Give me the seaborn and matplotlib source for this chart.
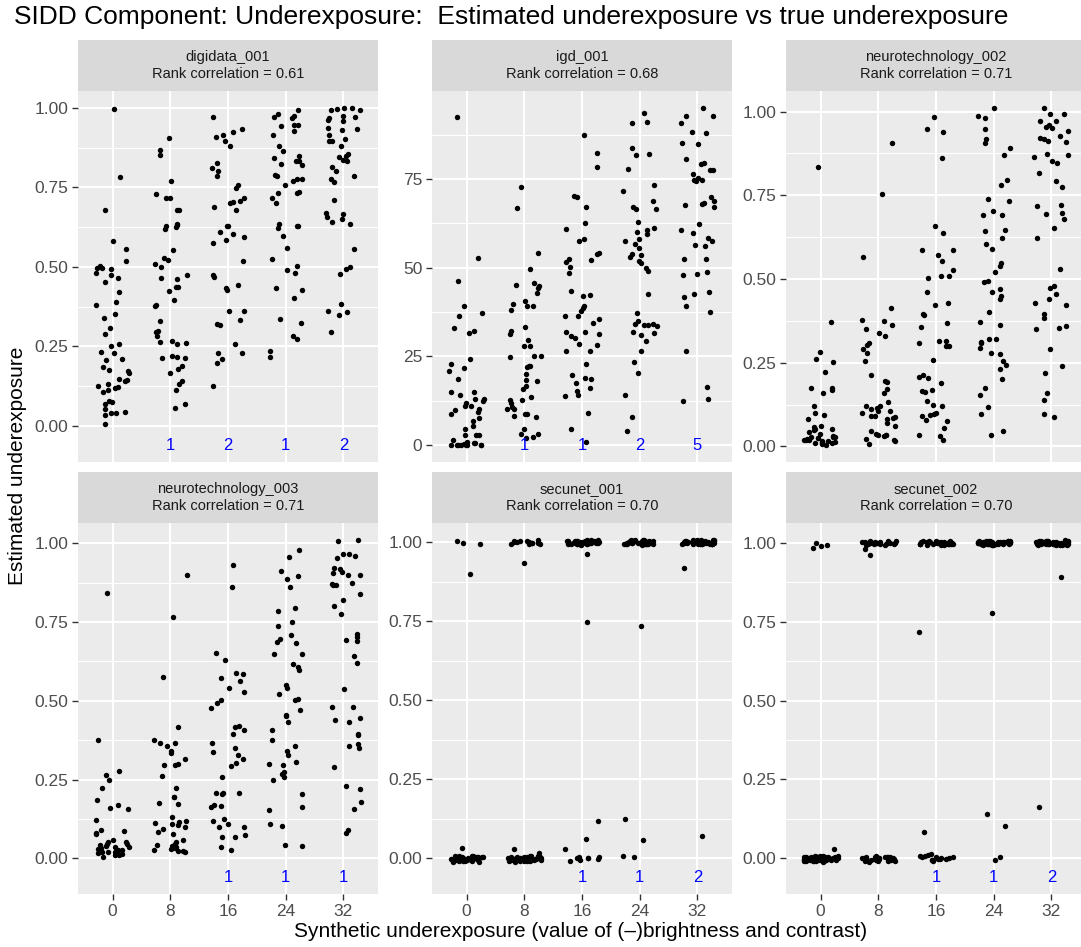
import numpy as np
import pandas as pd
import matplotlib
matplotlib.use("Agg")
import matplotlib.pyplot as plt
from matplotlib.ticker import FixedLocator, FixedFormatter
import seaborn as sns

# ---------------------------------------------------------------- data
levels = ["0", "8", "16", "24", "32"]
panel_names = ["digidata_001", "igd_001", "neurotechnology_002",
               "neurotechnology_003", "secunet_001", "secunet_002"]
rank_corr = [0.61, 0.68, 0.71, 0.71, 0.70, 0.70]
missing_counts = [[0, 1, 2, 1, 2], [0, 1, 1, 2, 5], [0, 0, 0, 0, 0],
                  [0, 0, 1, 1, 1], [0, 0, 1, 1, 2], [0, 0, 1, 1, 2]]

digidata_001 = [
    [0.997, 0.782, 0.680, 0.580, 0.557, 0.518, 0.503, 0.497, 0.497, 0.495, 0.480, 0.474,
     0.464, 0.452, 0.422, 0.389, 0.379, 0.352, 0.338, 0.309, 0.289, 0.257, 0.253, 0.232,
     0.229, 0.212, 0.208, 0.186, 0.177, 0.174, 0.168, 0.149, 0.145, 0.142, 0.131, 0.126,
     0.124, 0.120, 0.112, 0.107, 0.079, 0.074, 0.068, 0.053, 0.042, 0.043, 0.041, 0.035, 0.007],
    [0.904, 0.867, 0.852, 0.771, 0.728, 0.717, 0.716, 0.680, 0.678, 0.635, 0.632, 0.628,
     0.626, 0.619, 0.553, 0.528, 0.523, 0.508, 0.500, 0.476, 0.464, 0.461, 0.438, 0.437,
     0.424, 0.396, 0.378, 0.379, 0.331, 0.300, 0.295, 0.282, 0.268, 0.263, 0.262, 0.258,
     0.221, 0.218, 0.214, 0.213, 0.188, 0.178, 0.166, 0.142, 0.132, 0.112, 0.069, 0.056],
    [0.915, 0.881, 0.827, 0.787, 0.749, 0.758, 0.717, 0.708, 0.702, 0.688, 0.629, 0.518,
     0.444, 0.426, 0.435, 0.229, 0.199, 0.972, 0.935, 0.924, 0.907, 0.895, 0.811, 0.801,
     0.679, 0.703, 0.630, 0.610, 0.602, 0.593, 0.585, 0.574, 0.474, 0.468, 0.360, 0.363,
     0.332, 0.321, 0.318, 0.258, 0.228, 0.211, 0.126],
    [0.993, 0.982, 0.974, 0.971, 0.968, 0.947, 0.946, 0.942, 0.926, 0.916, 0.879, 0.863,
     0.849, 0.842, 0.834, 0.832, 0.821, 0.823, 0.789, 0.787, 0.777, 0.776, 0.771, 0.758,
     0.732, 0.731, 0.735, 0.716, 0.700, 0.629, 0.628, 0.635, 0.623, 0.597, 0.560, 0.524,
     0.502, 0.489, 0.482, 0.435, 0.426, 0.402, 0.335, 0.324, 0.282, 0.274, 0.237, 0.218],
    [1.000, 0.997, 0.999, 0.994, 0.993, 0.974, 0.972, 0.968, 0.960, 0.963, 0.932, 0.929,
     0.937, 0.916, 0.903, 0.895, 0.897, 0.881, 0.837, 0.849, 0.854, 0.844, 0.834, 0.813,
     0.802, 0.787, 0.777, 0.766, 0.711, 0.666, 0.671, 0.658, 0.651, 0.642, 0.635, 0.556,
     0.492, 0.500, 0.479, 0.363, 0.384, 0.349, 0.358, 0.295],
]

igd_001 = [
    [92.4, 52.8, 46.2, 39.1, 37.1, 36.3, 32.9, 32.1, 31.5, 24.3, 22.9, 21.7, 20.8, 18.6,
     14.9, 14.8, 14.2, 12.9, 12.3, 11.8, 13.0, 11.0, 11.1, 10.2, 9.9, 9.4, 8.8, 7.5, 6.7,
     4.5, 5.3, 2.8, 2.9, 1.4, 0.9, 2.7, 0.1, 0.0, 0.0, 0.0, 0.0, 0.1, 0.5, 0.2, 0.5, 0.0, 0.0],
    [72.7, 66.8, 54.1, 49.7, 45.6, 44.2, 45.0, 44.8, 42.9, 40.5, 39.3, 38.2, 39.2, 39.7,
     33.4, 32.1, 31.4, 29.7, 28.0, 27.8, 25.0, 25.1, 24.9, 22.4, 22.0, 22.3, 20.1, 18.4,
     17.9, 15.8, 16.5, 13.5, 12.7, 12.8, 11.9, 10.8, 10.2, 10.1, 8.2, 8.8, 8.6, 8.0, 4.5,
     3.1, 3.0, 2.2, 1.9],
    [67.2, 70.1, 82.3, 52.1, 50.2, 42.0, 31.3, 31.8, 30.2, 26.4, 26.5, 18.7, 19.0, 16.2,
     87.5, 78.3, 70.0, 62.7, 60.8, 58.0, 57.4, 54.2, 53.8, 52.5, 51.6, 48.4, 43.4, 42.3,
     39.3, 38.5, 37.9, 36.5, 36.3, 35.4, 34.4, 31.9, 30.8, 28.3, 28.5, 22.9, 19.8, 17.5,
     15.3, 14.0, 13.7, 9.0, 4.5, 0.8],
    [93.7, 91.0, 90.8, 83.8, 82.2, 81.8, 77.8, 73.3, 71.7, 68.9, 67.0, 66.7, 66.6, 62.9,
     60.7, 60.2, 61.3, 59.4, 58.0, 57.4, 56.6, 55.5, 53.8, 53.5, 53.0, 51.9, 51.4, 49.8,
     49.1, 42.7, 37.1, 34.9, 34.2, 34.0, 33.9, 33.5, 31.6, 31.1, 31.8, 33.7, 29.2, 26.4,
     23.5, 20.2, 14.0, 8.0, 4.0],
    [95.1, 92.8, 92.7, 90.9, 87.9, 88.2, 84.8, 85.2, 80.7, 79.5, 79.4, 77.6, 77.5, 76.4,
     74.7, 74.6, 75.2, 74.8, 68.8, 68.0, 67.8, 68.2, 67.2, 70.0, 62.2, 60.5, 58.3, 57.6,
     56.1, 56.3, 59.9, 52.4, 52.5, 48.9, 48.2, 47.9, 43.1, 42.6, 41.7, 39.2, 37.4, 26.6,
     16.4, 12.9, 12.3],
]

neurotechnology_002 = [
    [0.835, 0.372, 0.282, 0.252, 0.262, 0.222, 0.175, 0.170, 0.176, 0.160, 0.121, 0.101,
     0.094, 0.081, 0.061, 0.059, 0.051, 0.049, 0.052, 0.043, 0.028, 0.018, 0.019, 0.026,
     0.031, 0.027, 0.036, 0.025, 0.028, 0.011, 0.008, 0.004, 0.018, 0.009, 0.021, 0.013,
     0.014, 0.016, 0.011, 0.017],
    [0.906, 0.753, 0.566, 0.412, 0.378, 0.376, 0.363, 0.351, 0.339, 0.329, 0.304, 0.309,
     0.291, 0.279, 0.254, 0.212, 0.192, 0.194, 0.172, 0.160, 0.132, 0.120, 0.121, 0.100,
     0.107, 0.105, 0.115, 0.113, 0.091, 0.092, 0.086, 0.089, 0.081, 0.062, 0.070, 0.047,
     0.036, 0.033, 0.034, 0.032, 0.035, 0.021, 0.019, 0.008, 0.016],
    [0.396, 0.528, 0.170, 0.077, 0.309, 0.983, 0.948, 0.938, 0.860, 0.659, 0.637, 0.587,
     0.588, 0.572, 0.554, 0.510, 0.504, 0.508, 0.461, 0.428, 0.421, 0.393, 0.368, 0.358,
     0.314, 0.315, 0.301, 0.299, 0.259, 0.212, 0.204, 0.206, 0.189, 0.167, 0.162, 0.135,
     0.125, 0.120, 0.098, 0.100, 0.090, 0.095, 0.080, 0.055, 0.035, 0.032, 0.020],
    [1.011, 0.988, 0.981, 0.948, 0.918, 0.905, 0.890, 0.870, 0.796, 0.782, 0.739, 0.734,
     0.704, 0.692, 0.691, 0.644, 0.645, 0.622, 0.604, 0.591, 0.547, 0.539, 0.522, 0.492,
     0.493, 0.469, 0.462, 0.449, 0.439, 0.402, 0.372, 0.364, 0.320, 0.321, 0.312, 0.310,
     0.278, 0.277, 0.293, 0.255, 0.243, 0.230, 0.202, 0.175, 0.153, 0.118, 0.097, 0.034, 0.046],
    [1.011, 0.993, 0.992, 0.973, 0.972, 0.961, 0.953, 0.952, 0.943, 0.928, 0.918, 0.910,
     0.922, 0.912, 0.873, 0.871, 0.863, 0.846, 0.853, 0.818, 0.793, 0.775, 0.721, 0.718,
     0.698, 0.693, 0.680, 0.651, 0.621, 0.531, 0.479, 0.472, 0.454, 0.439, 0.429, 0.421,
     0.397, 0.384, 0.351, 0.354, 0.361, 0.292, 0.240, 0.220, 0.160, 0.140, 0.097, 0.087],
]

neurotechnology_003 = [
    [0.841, 0.374, 0.276, 0.263, 0.250, 0.224, 0.186, 0.168, 0.159, 0.155, 0.123, 0.085,
     0.081, 0.091, 0.077, 0.058, 0.051, 0.038, 0.035, 0.036, 0.046, 0.052, 0.045, 0.027,
     0.021, 0.019, 0.011, 0.020, 0.030, 0.018, 0.026, 0.019, 0.024, 0.003, 0.014, 0.011,
     0.042, 0.031, 0.024],
    [0.898, 0.765, 0.574, 0.416, 0.366, 0.367, 0.355, 0.374, 0.340, 0.335, 0.316, 0.300,
     0.295, 0.297, 0.261, 0.223, 0.194, 0.195, 0.175, 0.173, 0.130, 0.115, 0.111, 0.104,
     0.118, 0.077, 0.083, 0.099, 0.109, 0.093, 0.046, 0.058, 0.042, 0.038, 0.032, 0.021,
     0.027, 0.028, 0.022, 0.035, 0.024, 0.051],
    [0.931, 0.862, 0.653, 0.562, 0.541, 0.477, 0.420, 0.417, 0.394, 0.366, 0.350, 0.258,
     0.207, 0.206, 0.205, 0.170, 0.162, 0.067, 0.069, 0.629, 0.571, 0.585, 0.587, 0.528,
     0.502, 0.494, 0.408, 0.337, 0.327, 0.316, 0.303, 0.292, 0.208, 0.166, 0.117, 0.125,
     0.109, 0.099, 0.100, 0.075, 0.035, 0.027],
    [0.979, 0.958, 0.913, 0.897, 0.886, 0.860, 0.795, 0.785, 0.751, 0.737, 0.708, 0.687,
     0.684, 0.695, 0.647, 0.650, 0.618, 0.608, 0.599, 0.549, 0.542, 0.521, 0.506, 0.503,
     0.454, 0.452, 0.472, 0.433, 0.406, 0.376, 0.356, 0.339, 0.327, 0.297, 0.300, 0.305,
     0.268, 0.258, 0.274, 0.247, 0.205, 0.162, 0.152, 0.109, 0.101, 0.040, 0.043],
    [1.011, 1.007, 0.966, 0.961, 0.965, 0.952, 0.908, 0.901, 0.918, 0.907, 0.923, 0.873,
     0.867, 0.872, 0.869, 0.900, 0.838, 0.820, 0.801, 0.777, 0.701, 0.692, 0.712, 0.691,
     0.643, 0.621, 0.537, 0.480, 0.481, 0.445, 0.433, 0.438, 0.393, 0.390, 0.364, 0.356,
     0.350, 0.290, 0.229, 0.221, 0.178, 0.157, 0.080, 0.091],
]

secunet_001 = [
    [0.998, 1.003, 0.996, 0.900, 0.033,
     0.004, -0.006, 0.002, -0.009, 0.006, -0.002, 0.001, -0.011, 0.005, -0.004, 0.003,
     -0.007, 0.000, -0.001, 0.007, -0.008, 0.002, -0.005, 0.004, -0.010, 0.001, -0.003,
     0.006, -0.006, 0.003, -0.009, 0.000, -0.002, 0.005, -0.007, 0.002, -0.004, 0.001,
     -0.011, 0.004, -0.001, 0.003, -0.008, 0.006, -0.005, 0.000, -0.003, 0.002, -0.006, 0.005],
    [1.004, 0.998, 1.001, 0.995, 1.006, 0.999, 1.002, 0.994, 1.000, 1.005, 0.997, 1.003,
     0.996, 1.001, 0.934, 0.030, 0.017,
     0.003, -0.007, 0.001, -0.010, 0.005, -0.003, 0.002, -0.009, 0.006, -0.005, 0.000,
     -0.008, 0.004, -0.002, 0.007, -0.006, 0.001, -0.011, 0.003, -0.004, 0.005, -0.008,
     0.002, -0.001, 0.004, -0.006, 0.000, -0.009, 0.006, -0.003, 0.001],
    [1.005, 0.999, 1.002, 0.996, 1.007, 0.998, 1.001, 0.994, 1.004, 0.997, 1.003, 1.000,
     0.995, 1.006, 0.999, 1.002, 0.993, 1.005, 0.998, 1.001, 0.996, 1.004, 0.999, 1.003,
     0.995, 1.006, 1.000, 0.997, 1.002, 0.994, 1.005, 0.998, 1.001, 0.996, 1.003,
     0.963, 0.749, 0.117, 0.062, 0.028,
     0.004, -0.009, 0.002, -0.004, 0.000, 0.001, -0.006, 0.003],
    [1.003, 0.997, 1.006, 0.999, 1.001, 0.995, 1.004, 0.998, 1.002, 0.994, 1.005, 1.000,
     0.996, 1.007, 0.999, 1.003, 0.997, 1.001, 0.995, 1.004, 0.998, 1.002, 0.993, 1.006,
     1.000, 0.997, 1.003, 0.999, 1.005, 0.996, 1.001, 0.994, 1.004, 0.998, 1.002, 0.996,
     1.006, 0.999, 1.003, 0.997, 1.001, 0.995, 1.004,
     0.734, 0.125, 0.059, 0.006, 0.005],
    [1.002, 0.996, 1.005, 0.999, 1.003, 0.994, 1.006, 0.998, 1.001, 0.995, 1.004, 1.000,
     0.997, 1.007, 0.999, 1.002, 0.996, 1.005, 0.998, 1.003, 0.994, 1.001, 0.997, 1.006,
     1.000, 0.995, 1.004, 0.999, 1.002, 0.996, 1.005, 0.998, 1.003, 0.997, 1.001, 0.994,
     1.006, 0.999, 1.002, 0.996, 1.004, 0.998, 1.001, 0.995, 1.003, 1.008,
     0.918, 0.069],
]

secunet_002 = [
    [0.984, 0.989, 1.000, 0.993, 0.030,
     0.003, -0.005, 0.001, -0.008, 0.006, -0.002, 0.000, -0.010, 0.004, -0.004, 0.002,
     -0.007, 0.005, -0.001, 0.007, -0.009, 0.003, -0.006, 0.001, -0.011, 0.004, -0.003,
     0.006, -0.005, 0.002, -0.008, 0.000, -0.002, 0.005, -0.007, 0.003, -0.004, 0.001,
     -0.010, 0.004, -0.001, 0.002, -0.009, 0.006, -0.006, 0.000, -0.003, 0.003, -0.005, 0.005],
    [1.004, 0.999, 1.002, 0.996, 1.006, 1.000, 1.003, 0.995, 1.005, 0.998, 1.001, 0.997,
     1.004, 0.999, 1.002, 0.994, 1.006, 1.000, 0.997, 1.003, 0.998, 1.001, 0.981, 0.961,
     0.002, -0.006, 0.004, -0.009, 0.001, -0.003, 0.005, -0.007, 0.000, -0.010, 0.003,
     -0.004, 0.006, -0.008, 0.002, -0.001, 0.004, -0.005, 0.001, -0.011, 0.003, -0.002,
     0.005, -0.006, 0.000, -0.008],
    [1.003, 0.998, 1.005, 0.996, 1.001, 0.999, 1.004, 0.995, 1.002, 0.997, 1.006, 1.000,
     0.998, 1.003, 0.996, 1.005, 0.999, 1.001, 0.994, 1.004, 0.997, 1.002, 1.000, 0.996,
     1.005, 0.998, 1.003, 0.995, 1.001, 0.999, 1.004, 0.997,
     0.717, 0.083,
     0.006, -0.004, 0.012, 0.002, -0.010, 0.008, -0.001, 0.004, -0.007, 0.010, 0.001,
     -0.003, 0.005, -0.006, 0.003],
    [1.002, 0.997, 1.005, 0.999, 1.003, 0.995, 1.006, 0.998, 1.001, 0.996, 1.004, 1.000,
     0.997, 1.003, 0.999, 1.005, 0.994, 1.002, 0.998, 1.006, 1.000, 0.996, 1.004, 0.999,
     1.002, 0.995, 1.005, 0.997, 1.001, 0.998, 1.003, 0.996, 1.006, 0.999, 1.002, 0.997,
     1.004, 0.995, 1.001, 0.998, 1.003, 1.000, 0.996, 1.005,
     0.777, 0.141, 0.102, -0.007, 0.005],
    [1.001, 0.996, 1.004, 0.998, 1.006, 0.995, 1.002, 0.999, 1.005, 0.997, 1.003, 1.000,
     0.994, 1.006, 0.998, 1.002, 0.996, 1.004, 0.999, 1.001, 0.995, 1.005, 0.997, 1.003,
     1.000, 0.996, 1.004, 0.998, 1.002, 0.994, 1.006, 0.999, 1.001, 0.997, 1.003, 0.995,
     1.005, 0.998, 1.002, 0.996, 1.004, 1.000, 0.997, 1.003, 1.007, 1.010,
     0.891, 0.161],
]

panel_values = [digidata_001, igd_001, neurotechnology_002,
                neurotechnology_003, secunet_001, secunet_002]

title = "SIDD Component: Underexposure:  Estimated underexposure vs true underexposure"
x_title = "Synthetic underexposure (value of (\u2013)brightness and contrast)"
y_title = "Estimated underexposure"
label_y = -0.06

# ---------------------------------------------------------------- style
sns.set_theme(style="darkgrid", rc={
    "axes.facecolor": "#EBEBEB",
    "grid.color": "white",
    "axes.edgecolor": "#EBEBEB",
})
plt.rcParams["font.family"] = ["Liberation Sans", "DejaVu Sans"]

W, H = 1081, 947
fig = plt.figure(figsize=(W / 100, H / 100), dpi=100)
fig.patch.set_facecolor("white")

col_left = [78, 432, 786]
panel_w = 300
row_strip_top = [40, 472]
strip_h = 51
panel_h = 371


def fig_rect(x, y, w, h):
    return [x / W, 1 - (y + h) / H, w / W, h / H]


np.random.seed(3)
for i, (name, corr, vals, miss) in enumerate(zip(panel_names, rank_corr,
                                                 panel_values, missing_counts)):
    r, c = divmod(i, 3)
    top = row_strip_top[r] + strip_h
    ax = fig.add_axes(fig_rect(col_left[c], top, panel_w, panel_h))

    df = pd.DataFrame({
        "level": [lv for lv, grp in zip(levels, vals) for _ in grp],
        "value": [v for grp in vals for v in grp],
    })
    sns.stripplot(data=df, x="level", y="value", order=levels, jitter=0.3,
                  size=3.9, color="black", linewidth=0, ax=ax, zorder=3)

    # y range: data plus count labels, padded like a continuous scale
    all_v = df["value"].to_numpy()
    lo = all_v.min()
    if any(miss):
        lo = min(lo, label_y)
    hi = all_v.max()
    pad = 0.05 * (hi - lo)
    ax.set_ylim(lo - pad, hi + pad)
    ax.set_xlim(-0.6, 4.6)

    if name == "igd_001":
        majors = [0, 25, 50, 75]
        minors = [12.5, 37.5, 62.5, 87.5]
        labels = ["0", "25", "50", "75"]
    else:
        majors = [0, 0.25, 0.5, 0.75, 1.0]
        minors = [0.125, 0.375, 0.625, 0.875]
        labels = ["0.00", "0.25", "0.50", "0.75", "1.00"]
    ax.yaxis.set_major_locator(FixedLocator(majors))
    ax.yaxis.set_major_formatter(FixedFormatter(labels))
    ax.yaxis.set_minor_locator(FixedLocator(minors))

    ax.set_axisbelow(True)
    ax.grid(False)
    ax.yaxis.grid(True, which="major", color="white", lw=1.5)
    ax.yaxis.grid(True, which="minor", color="white", lw=0.75)
    ax.xaxis.grid(True, which="major", color="white", lw=1.5)
    for s in ax.spines.values():
        s.set_visible(False)

    ax.tick_params(axis="y", which="major", length=4, width=1, color="#333333",
                   labelsize=12.5, labelcolor="#4D4D4D", pad=3, left=True)
    ax.tick_params(axis="y", which="minor", length=0)
    if r == 1:
        ax.tick_params(axis="x", length=4, width=1, color="#333333",
                       labelsize=12.5, labelcolor="#4D4D4D", pad=3, bottom=True)
    else:
        ax.tick_params(axis="x", bottom=False, labelbottom=False)
    ax.set_xlabel("")
    ax.set_ylabel("")

    for j, n in enumerate(miss):
        if n > 0:
            ax.text(j, label_y, str(n), color="blue", ha="center", va="center",
                    fontsize=12, zorder=4)

    sax = fig.add_axes(fig_rect(col_left[c], row_strip_top[r], panel_w, strip_h))
    sax.set_facecolor("#D9D9D9")
    sax.set_xticks([])
    sax.set_yticks([])
    sax.grid(False)
    for s in sax.spines.values():
        s.set_visible(False)
    sax.text(0.5, 0.5, f"{name}\nRank correlation = {corr:.2f}", ha="center",
             va="center", fontsize=10.5, color="#1A1A1A", linespacing=1.25,
             transform=sax.transAxes)

fig.text(14 / W, 1 - 17 / H, title, ha="left", va="center", fontsize=19,
         color="black")
fig.text(581 / W, 1 - 931 / H, x_title, ha="center", va="center", fontsize=15,
         color="black")
fig.text(18 / W, 1 - 466 / H, y_title, ha="center", va="center", fontsize=15,
         rotation=90, color="black")

fig.savefig("out.png", dpi=100)
